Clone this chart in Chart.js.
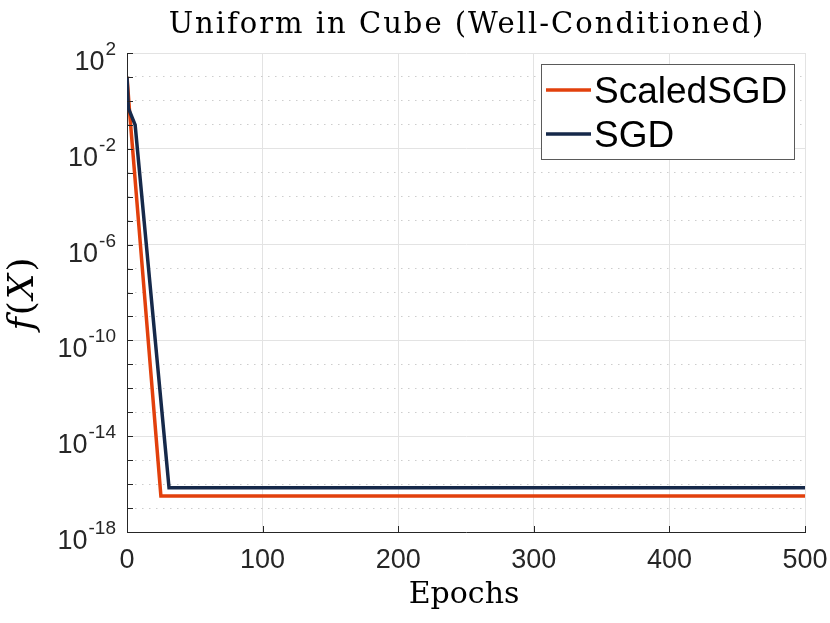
<!DOCTYPE html>
<html lang="en">
<head>
<meta charset="UTF-8">
<title>Uniform in Cube (Well-Conditioned)</title>
<style>
  html, body { margin: 0; padding: 0; background: #fff; }
  #chart { display: block; }
</style>
</head>
<body>
<canvas id="chart" width="830" height="623"></canvas>
<script src="https://cdn.jsdelivr.net/npm/chart.js@4.4.0/dist/chart.umd.min.js"></script>
<script>
// values (loss on a log axis)
const seriesNames = ['ScaledSGD', 'SGD'];
const seriesColors = ['#e2400c', '#16294a'];
const scaledEpochs = [0, 2, 25, 500];
const scaledLoss = [10, 0.3, 3.2e-17, 3.2e-17];
const sgdEpochs = [0, 1, 6, 31, 500];
const sgdLoss = [10, 0.5, 0.1, 7e-17, 7e-17];
const xTicks = [0, 100, 200, 300, 400, 500];
const yTickExps = [2, 1, 0, -1, -2, -3, -4, -5, -6, -7, -8, -9, -10, -11, -12, -13, -14, -15, -16, -17, -18];
const yLabelExps = [2, -2, -6, -10, -14, -18];

const AXIS = '#262626';
const GRID = '#e3e3e3';
const DOTS = '#cdcdcd';

function isMajor(c) {
  if (!c.tick) return true;
  return yLabelExps.includes(Math.round(Math.log10(c.tick.value)));
}

// titles, y labels with exponents, inner tick marks, boxed legend
const decor = {
  id: 'decor',
  afterDraw(chart) {
    const ctx = chart.ctx;
    const a = chart.chartArea;
    const xs = chart.scales.x, ys = chart.scales.y;
    ctx.save();

    ctx.strokeStyle = AXIS;
    ctx.lineWidth = 1;
    ctx.beginPath();
    yTickExps.forEach(e => {
      const py = Math.round(ys.getPixelForValue(Number('1e' + e))) + 0.5;
      ctx.moveTo(a.left, py); ctx.lineTo(a.left + 6, py);
    });
    xTicks.forEach(v => {
      const px = Math.round(xs.getPixelForValue(v)) + 0.5;
      ctx.moveTo(px, a.bottom); ctx.lineTo(px, a.bottom - 6);
    });
    ctx.stroke();

    ctx.fillStyle = AXIS;
    ctx.textAlign = 'right';
    ctx.textBaseline = 'alphabetic';
    yLabelExps.forEach(e => {
      const py = ys.getPixelForValue(Number('1e' + e));
      const ex = String(e);
      ctx.font = '19px "Liberation Sans"';
      const w = ctx.measureText(ex).width;
      ctx.fillText(ex, 116, py + 2);
      ctx.font = '27px "Liberation Sans"';
      ctx.fillText('10', 116 - w - 1, py + 17);
    });

    ctx.fillStyle = '#000';
    ctx.textAlign = 'center';
    ctx.font = '29px "DejaVu Serif"';
    ctx.letterSpacing = '2px';
    ctx.fillText('Uniform in Cube (Well-Conditioned)', 467, 33);
    ctx.letterSpacing = '0px';
    ctx.font = '30px "DejaVu Serif"';
    ctx.fillText('Epochs', 464, 603);

    // f(X) rotated
    const parts = [['f', 'italic 36px "DejaVu Serif"'], ['(', '36px "DejaVu Serif"'],
                   ['X', 'italic 36px "DejaVu Serif"'], [')', '36px "DejaVu Serif"']];
    let total = 0;
    parts.forEach(p => { ctx.font = p[1]; total += ctx.measureText(p[0]).width + 2; });
    ctx.translate(33, 293);
    ctx.rotate(-Math.PI / 2);
    ctx.textAlign = 'left';
    let cx = -total / 2;
    parts.forEach(p => { ctx.font = p[1]; ctx.fillText(p[0], cx, 0); cx += ctx.measureText(p[0]).width + 2; });
    ctx.setTransform(1, 0, 0, 1, 0, 0);
    ctx.restore();

    ctx.save();
    ctx.fillStyle = '#fff';
    ctx.fillRect(541, 64, 253, 95);
    ctx.strokeStyle = '#5a5a5a';
    ctx.lineWidth = 1;
    ctx.strokeRect(541.5, 64.5, 253, 95);
    ctx.font = '37px "Liberation Sans"';
    ctx.textAlign = 'left';
    ctx.textBaseline = 'alphabetic';
    chart.data.datasets.forEach((ds, i) => {
      const ly = 90 + i * 44;
      ctx.strokeStyle = ds.borderColor;
      ctx.lineWidth = 3.5;
      ctx.beginPath(); ctx.moveTo(546, ly); ctx.lineTo(591, ly); ctx.stroke();
      ctx.fillStyle = '#000';
      ctx.fillText(ds.label, 594, ly + 13);
    });
    ctx.restore();
  }
};

const ctx = document.getElementById('chart').getContext('2d');
new Chart(ctx, {
  type: 'line',
  data: {
    datasets: [
      {
        label: seriesNames[0],
        data: scaledEpochs.map((x, i) => ({ x: x, y: scaledLoss[i] })),
        borderColor: seriesColors[0],
        borderWidth: 3.5,
        pointRadius: 0,
        tension: 0,
        order: 2
      },
      {
        label: seriesNames[1],
        data: sgdEpochs.map((x, i) => ({ x: x, y: sgdLoss[i] })),
        borderColor: seriesColors[1],
        borderWidth: 3.5,
        pointRadius: 0,
        tension: 0,
        order: 1
      }
    ]
  },
  options: {
    responsive: false,
    animation: false,
    layout: { padding: { top: 53, right: 25, left: 0, bottom: 0 } },
    plugins: {
      legend: { display: false },
      tooltip: { enabled: false },
      title: { display: false }
    },
    scales: {
      x: {
        type: 'linear',
        min: 0,
        max: 500,
        afterBuildTicks: s => { s.ticks = xTicks.map(v => ({ value: v })); },
        afterFit: s => { s.height = 91; s.paddingLeft = 0; s.paddingRight = 0; },
        ticks: { font: { family: 'Liberation Sans', size: 27 }, color: AXIS, padding: 12, maxRotation: 0 },
        grid: { color: GRID, drawTicks: false, lineWidth: 1 },
        border: { color: AXIS, width: 1 }
      },
      y: {
        type: 'logarithmic',
        min: 1e-18,
        max: 1e2,
        afterBuildTicks: s => { s.ticks = yTickExps.map(e => ({ value: Number('1e' + e) })); },
        afterFit: s => { s.width = 127; s.paddingTop = 0; s.paddingBottom = 0; },
        ticks: { display: false },
        grid: { color: c => isMajor(c) ? GRID : DOTS, drawTicks: false, lineWidth: 1 },
        border: { color: AXIS, width: 1, dash: c => isMajor(c) ? [] : [1.5, 5.5] }
      }
    }
  },
  plugins: [decor]
});
</script>
</body>
</html>
